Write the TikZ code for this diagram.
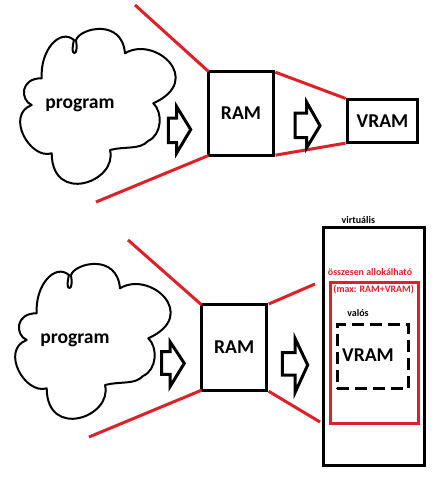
\documentclass[tikz,border=0pt]{standalone}
\usepackage{fontspec}
\setmainfont{Carlito}
\definecolor{pred}{RGB}{222,32,40}
\tikzset{
  box/.style={draw=black, line width=3pt, inner sep=0pt, outer sep=0pt, font=\fontsize{19.6}{22}\selectfont\bfseries},
  redbox/.style={draw=pred, line width=3pt, inner sep=0pt, outer sep=0pt},
  dashbox/.style={draw=black, line width=3pt, dash pattern=on 12pt off 6pt, inner sep=0pt, outer sep=0pt},
  redline/.style={draw=pred, line width=3pt},
  blockarrow/.style={draw=black, line width=3pt, line join=miter},
  cloudline/.style={draw=black, line width=2pt, line join=round},
  bigtext/.style={inner sep=0pt, font=\fontsize{19.6}{22}\selectfont\bfseries},
  smalltext/.style={inner sep=0pt, font=\fontsize{10}{12}\selectfont\bfseries},
  redtext/.style={inner sep=0pt, text=pred, font=\fontsize{9.9}{12}\selectfont\bfseries},
  cloudpic/.pic={
    \draw[cloudline] (41.7,78.3)
      .. controls (40,50) and (60,28) .. (74,40)
      .. controls (72,48) and (72,53) .. (74.5,53)
      .. controls (77,53) and (77,46) .. (76,40)
      .. controls (80,28) and (122,18) .. (125,53.3)
      .. controls (155,35) and (205,80) .. (153.3,103.3)
      .. controls (163,112) and (162,135) .. (148,141)
      .. controls (140,150) and (125,146) .. (110,150)
      .. controls (118,182) and (52,205) .. (51.7,153.3)
      .. controls (30,160) and (5,115) .. (31.7,105)
      .. controls (20,100) and (20,78) .. (41.7,78.3) -- cycle;
  }
}
\begin{document}
\begin{tikzpicture}[x=1pt,y=-1pt]
\path[use as bounding box, fill=white] (0,0) rectangle (433,480);

% ---------- top diagram ----------
\pic at (0,0) {cloudpic};
\node[bigtext, anchor=base] (progA) at (80,108.3) {program};

\node[box, minimum width=65pt, minimum height=84pt] (ramA) at (241,113.5) {RAM};
\node[box, minimum width=70pt, minimum height=43.6pt] (vramA) at (382.5,121) {VRAM};

\coordinate (a1) at (135,5);
\coordinate (a2) at (96,202);
\draw[redline] (ramA.north west) -- (a1);
\draw[redline] (ramA.south west) -- (a2);
\draw[redline, shorten <=2pt, shorten >=2pt] (ramA.north east) -- (vramA.north west);
\draw[redline, shorten <=2pt, shorten >=2pt] (ramA.south east) -- (vramA.south west);

\draw[blockarrow] (168.3,118) -- (176.7,118) -- (176.7,106.7) -- (190.7,129.5) -- (176.7,153) -- (176.7,142.7) -- (168.3,142.7) -- cycle;
\draw[blockarrow] (295,113) -- (306.7,113) -- (306.7,102.3) -- (320,125.7) -- (306.7,147.7) -- (306.7,137.7) -- (295,137.7) -- cycle;

% ---------- bottom diagram ----------
\pic at (-5,235) {cloudpic};
\node[bigtext, anchor=base] (progB) at (75,343) {program};

\node[box, minimum width=65.3pt, minimum height=85.4pt] (ramB) at (234.2,347.5) {RAM};

\node[box, minimum width=100.7pt, minimum height=238pt] (virt) at (374.2,346.2) {};
\node[smalltext] (virtlabel) at (358.3,220) {virtuális};

\node[redbox, minimum width=88pt, minimum height=141pt] (alloc) at (374.5,353) {};
\node[redtext] (alloclabel) at (370,272.5) {összesen allokálható};
\node[redtext] (maxlabel) at (373.7,289.5) {(max: RAM+VRAM)};

\node[dashbox, minimum width=71.3pt, minimum height=64pt] (real) at (372.9,356.5) {};
\node[smalltext] (reallabel) at (358,313.3) {valós};
\node[bigtext] (vramB) at (368,355) {VRAM};

\coordinate (b1) at (128,240);
\coordinate (b2) at (89,437);
\coordinate (b3) at (315,284);
\coordinate (b4) at (320,422);
\draw[redline] (ramB.north west) -- (b1);
\draw[redline] (ramB.south west) -- (b2);
\draw[redline, shorten <=2pt] (ramB.north east) -- (b3);
\draw[redline, shorten <=2pt] (ramB.south east) -- (b4);

\draw[blockarrow] (161.7,351.7) -- (170,351.7) -- (170,341.7) -- (184.3,363.3) -- (170,386.7) -- (170,374.3) -- (161.7,374.3) -- cycle;
\draw[blockarrow] (282.3,352.7) -- (295,352.7) -- (295,338.3) -- (307.7,365) -- (295,392.7) -- (295,375) -- (282.3,375) -- cycle;
\end{tikzpicture}
\end{document}
